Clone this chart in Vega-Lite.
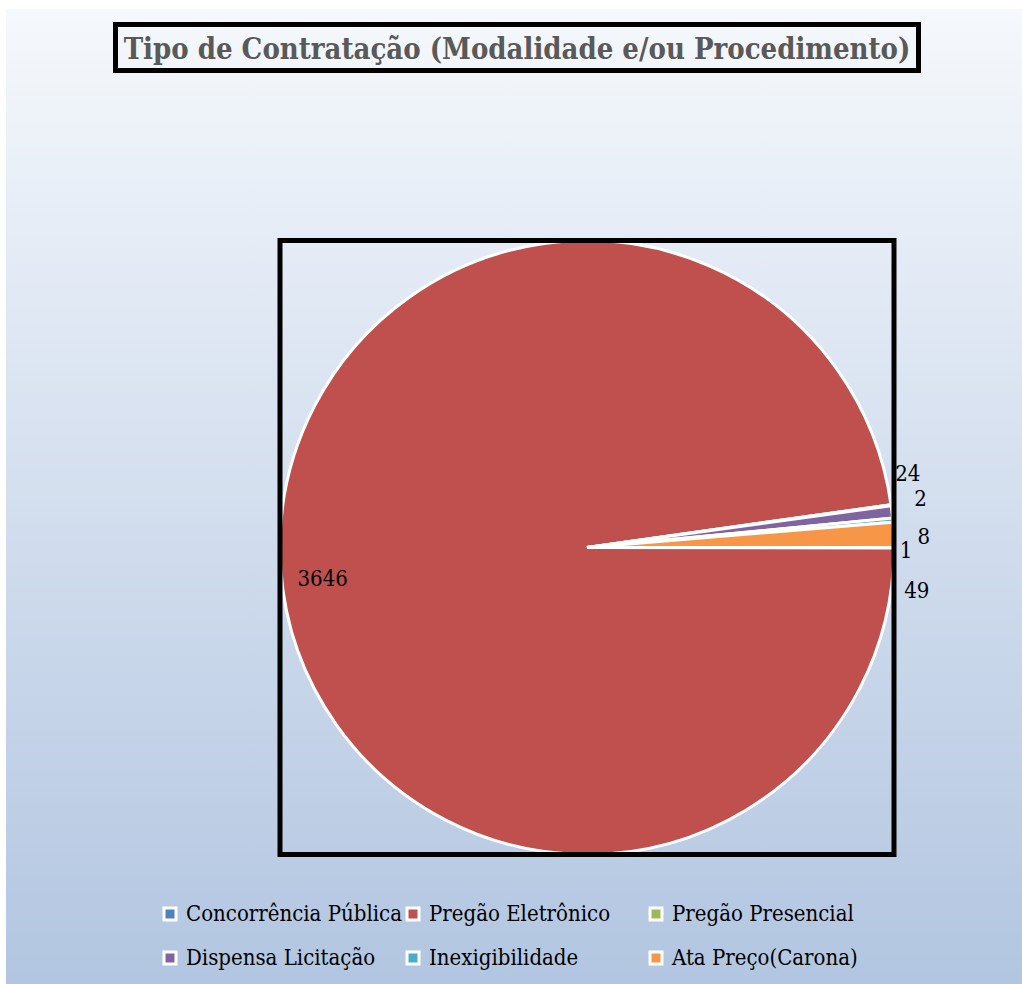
{
  "$schema": "https://vega.github.io/schema/vega-lite/v6.json",
  "background": "white",
  "padding": {"left": 6, "top": 9, "right": 0, "bottom": 0},
  "spacing": 0,
  "config": {"view": {"stroke": null}, "concat": {"spacing": 0}},
  "datasets": {
    "contratos": [
      {"tipo": "Concorrência Pública", "valor": 1, "ordem": 1},
      {"tipo": "Pregão Eletrônico", "valor": 3646, "ordem": 2},
      {"tipo": "Pregão Presencial", "valor": 2, "ordem": 3},
      {"tipo": "Dispensa Licitação", "valor": 24, "ordem": 4},
      {"tipo": "Inexigibilidade", "valor": 8, "ordem": 5},
      {"tipo": "Ata Preço(Carona)", "valor": 49, "ordem": 6}
    ]
  },
  "vconcat": [
    {
      "width": 1016, "height": 13,
      "data": {"values": []}, "mark": "point",
      "view": {"fill": {"gradient": "linear", "x1": 0, "y1": 0, "x2": 0, "y2": 1, "stops": [{"offset": 0, "color": "#f5f8fc"}, {"offset": 1, "color": "#f4f7fc"}]}}
    },
    {
      "spacing": 0,
      "hconcat": [
        {
          "width": 107, "height": 51,
          "data": {"values": []}, "mark": "point",
          "view": {"fill": {"gradient": "linear", "x1": 0, "y1": 0, "x2": 0, "y2": 1, "stops": [{"offset": 0, "color": "#f4f7fc"}, {"offset": 1, "color": "#f1f5fa"}]}}
        },
        {
          "width": 808, "height": 51,
          "data": {"values": [{"titulo": "Tipo de Contratação (Modalidade e/ou Procedimento)"}]},
          "view": {"fill": {"gradient": "linear", "x1": 0, "y1": 0, "x2": 0, "y2": 1, "stops": [{"offset": 0, "color": "#f4f7fc"}, {"offset": 1, "color": "#f1f5fa"}]}},
          "layer": [
            {"mark": {"type": "rect", "clip": true, "fillOpacity": 0, "stroke": "black", "strokeWidth": 10}},
            {
              "mark": {"type": "text", "font": "DejaVu Serif Condensed", "fontSize": 29, "fontWeight": "bold", "color": "#595959", "dy": 2},
              "encoding": {"text": {"field": "titulo", "type": "nominal"}}
            }
          ]
        },
        {
          "width": 101, "height": 51,
          "data": {"values": []}, "mark": "point",
          "view": {"fill": {"gradient": "linear", "x1": 0, "y1": 0, "x2": 0, "y2": 1, "stops": [{"offset": 0, "color": "#f4f7fc"}, {"offset": 1, "color": "#f1f5fa"}]}}
        }
      ]
    },
    {
      "width": 1016, "height": 165,
      "data": {"values": []}, "mark": "point",
      "view": {"fill": {"gradient": "linear", "x1": 0, "y1": 0, "x2": 0, "y2": 1, "stops": [{"offset": 0, "color": "#f1f5fa"}, {"offset": 1, "color": "#e5ecf6"}]}}
    },
    {
      "spacing": 0,
      "hconcat": [
        {
          "width": 146, "height": 619,
          "data": {"values": []}, "mark": "point",
          "view": {"fill": {"gradient": "linear", "x1": 0, "y1": 0, "x2": 0, "y2": 1, "stops": [{"offset": 0, "color": "#e5ecf6"}, {"offset": 1, "color": "#bbcce4"}]}}
        },
        {
          "width": 870, "height": 619,
          "view": {"fill": {"gradient": "linear", "x1": 0, "y1": 0, "x2": 0, "y2": 1, "stops": [{"offset": 0, "color": "#e5ecf6"}, {"offset": 1, "color": "#bbcce4"}]}},
          "data": {"name": "contratos"},
          "layer": [
            {
              "mark": {"type": "arc", "outerRadius": 307, "stroke": "white", "strokeWidth": 3, "clip": true},
              "encoding": {
                "theta": {"field": "valor", "type": "quantitative", "stack": true, "scale": {"range": [1.5708, 7.854]}},
                "order": {"field": "ordem", "type": "quantitative"},
                "color": {
                  "field": "tipo",
                  "type": "nominal",
                  "scale": {
                    "domain": ["Concorrência Pública", "Pregão Eletrônico", "Pregão Presencial", "Dispensa Licitação", "Inexigibilidade", "Ata Preço(Carona)"],
                    "range": ["#4f81bd", "#c0504d", "#9bbb59", "#8064a2", "#4bacc6", "#f79646"]
                  },
                  "legend": {
                    "orient": "none",
                    "legendX": 153,
                    "legendY": 894,
                    "direction": "horizontal",
                    "columns": 3,
                    "gridAlign": "all",
                    "columnPadding": -4,
                    "rowPadding": 20,
                    "title": null,
                    "padding": 0,
                    "symbolType": "square",
                    "symbolSize": 144,
                    "symbolStrokeColor": "white",
                    "symbolStrokeWidth": 3,
                    "symbolOpacity": 1,
                    "labelFont": "DejaVu Serif Condensed",
                    "labelFontSize": 22,
                    "labelColor": "black",
                    "labelLimit": 0,
                    "labelOffset": 5
                  }
                }
              }
            },
            {
              "data": {"values": [{}]},
              "mark": {"type": "point", "shape": "square", "size": 376996, "filled": false, "color": "black", "strokeWidth": 5, "opacity": 1, "clip": true}
            },
            {
              "mark": {"type": "text", "radius": 265, "dy": 13, "font": "DejaVu Serif Condensed", "fontSize": 22, "color": "black", "clip": true},
              "encoding": {
                "theta": {"field": "valor", "type": "quantitative", "stack": true},
                "order": {"field": "ordem", "type": "quantitative"},
                "detail": {"field": "tipo", "type": "nominal"},
                "text": {"condition": {"test": "datum.tipo === 'Pregão Eletrônico'", "field": "valor", "type": "nominal"}, "value": ""}
              }
            },
            {
              "mark": {"type": "text", "radius": 320, "dx": 3, "dy": -36, "font": "DejaVu Serif Condensed", "fontSize": 22, "color": "black", "clip": true},
              "encoding": {
                "theta": {"field": "valor", "type": "quantitative", "stack": true},
                "order": {"field": "ordem", "type": "quantitative"},
                "detail": {"field": "tipo", "type": "nominal"},
                "text": {"condition": {"test": "datum.tipo === 'Dispensa Licitação'", "field": "valor", "type": "nominal"}, "value": ""}
              }
            },
            {
              "mark": {"type": "text", "radius": 320, "dx": 16.5, "dy": -4, "font": "DejaVu Serif Condensed", "fontSize": 22, "color": "black", "clip": true},
              "encoding": {
                "theta": {"field": "valor", "type": "quantitative", "stack": true},
                "order": {"field": "ordem", "type": "quantitative"},
                "detail": {"field": "tipo", "type": "nominal"},
                "text": {"condition": {"test": "datum.tipo === 'Pregão Presencial'", "field": "valor", "type": "nominal"}, "value": ""}
              }
            },
            {
              "mark": {"type": "text", "radius": 320, "dx": 18, "dy": 18, "font": "DejaVu Serif Condensed", "fontSize": 22, "color": "black", "clip": true},
              "encoding": {
                "theta": {"field": "valor", "type": "quantitative", "stack": true},
                "order": {"field": "ordem", "type": "quantitative"},
                "detail": {"field": "tipo", "type": "nominal"},
                "text": {"condition": {"test": "datum.tipo === 'Inexigibilidade'", "field": "valor", "type": "nominal"}, "value": ""}
              }
            },
            {
              "mark": {"type": "text", "radius": 320, "dx": -1, "dy": 3, "font": "DejaVu Serif Condensed", "fontSize": 22, "color": "black", "clip": true},
              "encoding": {
                "theta": {"field": "valor", "type": "quantitative", "stack": true},
                "order": {"field": "ordem", "type": "quantitative"},
                "detail": {"field": "tipo", "type": "nominal"},
                "text": {"condition": {"test": "datum.tipo === 'Concorrência Pública'", "field": "valor", "type": "nominal"}, "value": ""}
              }
            },
            {
              "mark": {"type": "text", "radius": 320, "dx": 10, "dy": 57, "font": "DejaVu Serif Condensed", "fontSize": 22, "color": "black", "clip": true},
              "encoding": {
                "theta": {"field": "valor", "type": "quantitative", "stack": true},
                "order": {"field": "ordem", "type": "quantitative"},
                "detail": {"field": "tipo", "type": "nominal"},
                "text": {"condition": {"test": "datum.tipo === 'Ata Preço(Carona)'", "field": "valor", "type": "nominal"}, "value": ""}
              }
            }
          ]
        }
      ]
    },
    {
      "width": 1016, "height": 127,
      "data": {"values": []}, "mark": "point",
      "view": {"fill": {"gradient": "linear", "x1": 0, "y1": 0, "x2": 0, "y2": 1, "stops": [{"offset": 0, "color": "#bbcce4"}, {"offset": 1, "color": "#b2c6e1"}]}}
    }
  ]
}
